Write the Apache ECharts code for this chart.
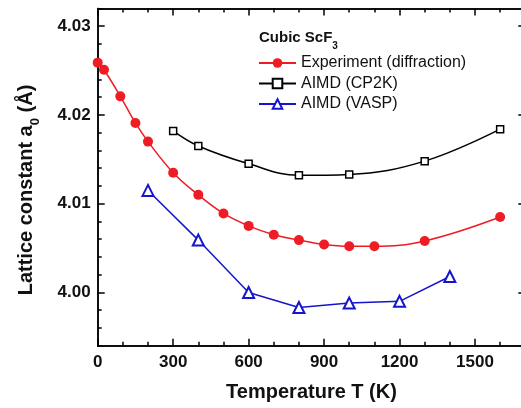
<!DOCTYPE html>
<html><head><meta charset="utf-8">
<script src="https://cdn.jsdelivr.net/npm/echarts@6/dist/echarts.min.js"></script>
<style>html,body{margin:0;padding:0;background:#fff}#c{width:521px;height:408px}</style>
</head><body><div id="c"></div>
<script>
var expT = [0, 25, 90, 150, 200, 300, 400, 500, 600, 700, 800, 900, 1000, 1100, 1300, 1600];
var expA = [4.0259, 4.0251, 4.0221, 4.0191, 4.0170, 4.0135, 4.0110, 4.0089, 4.0075, 4.0065, 4.0059, 4.0054, 4.0052, 4.0052, 4.0058, 4.0085];
var cpT = [300, 400, 600, 800, 1000, 1300, 1600];
var cpA = [4.0182, 4.0165, 4.0145, 4.0132, 4.0133, 4.0148, 4.0184];
var vaspT = [200, 400, 600, 800, 1000, 1200, 1400];
var vaspA = [4.0115, 4.0059, 4.0000, 3.9983, 3.9988, 3.9990, 4.0018];
var xTicks = [0, 300, 600, 900, 1200, 1500];
var yTicks = [4.00, 4.01, 4.02, 4.03];
var names = ['Experiment (diffraction)', 'AIMD (CP2K)', 'AIMD (VASP)'];

function zip(a, b) { return a.map(function (v, i) { return [v, b[i]]; }); }
var FONT = 'Liberation Sans, Arial, sans-serif';
var lineSty = { color: '#000', width: 1.5 };

function xAx(pos, major, labels) {
  return {
    type: 'value', position: pos, min: 0, max: 1700, interval: 100,
    axisLine: { show: true, onZero: false, lineStyle: lineSty },
    splitLine: { show: false },
    axisTick: major ? { show: true, inside: true, length: 7, customValues: xTicks, lineStyle: lineSty }
                    : { show: true, inside: true, length: 4, lineStyle: lineSty },
    axisLabel: labels ? { show: true, customValues: xTicks, margin: 8, fontFamily: FONT, fontWeight: 'bold', fontSize: 17, color: '#111',
      formatter: function (v) { return String(Math.round(v)); } } : { show: false }
  };
}
function yAx(pos, major, labels) {
  return {
    type: 'value', position: pos, min: 3.994, max: 4.032, interval: 0.002,
    axisLine: { show: true, onZero: false, lineStyle: lineSty },
    splitLine: { show: false },
    axisTick: major ? { show: true, inside: true, length: 7, customValues: yTicks, lineStyle: lineSty }
                    : { show: true, inside: true, length: 4, lineStyle: lineSty },
    axisLabel: labels ? { show: true, customValues: yTicks, margin: 7, fontFamily: FONT, fontWeight: 'bold', fontSize: 17, color: '#111',
      formatter: function (v) { return v.toFixed(2); } } : { show: false }
  };
}

var xa0 = xAx('bottom', true, true);
xa0.name = 'Temperature T (K)';
xa0.nameLocation = 'middle';
xa0.nameGap = 37;
xa0.nameTextStyle = { fontFamily: FONT, fontWeight: 'bold', fontSize: 20, color: '#111' };

var chart = echarts.init(document.getElementById('c'), null, { renderer: 'canvas' });
chart.setOption({
  animation: false,
  backgroundColor: '#fff',
  grid: { left: 97.7, top: 8.5, width: 427.6, height: 337.2, containLabel: false, outerBoundsMode: 'none' },
  xAxis: [xa0, xAx('bottom', false, false), xAx('top', true, false), xAx('top', false, false)],
  yAxis: [yAx('left', true, true), yAx('left', false, false), yAx('right', true, false), yAx('right', false, false)],
  legend: {
    data: names, orient: 'vertical', left: 258, top: 54, itemWidth: 37, itemHeight: 12, itemGap: 2.5,
    textStyle: { fontFamily: FONT, fontSize: 16, color: '#111', lineHeight: 18 }, padding: 0
  },
  graphic: [
    { type: 'text', left: 259, top: 30, style: { text: '{b|Cubic ScF}{s|3}', rich: {
      b: { fontFamily: FONT, fontWeight: 'bold', fontSize: 15, fill: '#111', verticalAlign: 'top', lineHeight: 18 },
      s: { fontFamily: FONT, fontWeight: 'bold', fontSize: 10, fill: '#111', verticalAlign: 'bottom', lineHeight: 21 } } } },
    { type: 'text', x: 29, y: 190, rotation: Math.PI / 2, style: {
      text: '{b|Lattice constant a}{s|0}{b| (Å)}', align: 'center', verticalAlign: 'middle', rich: {
      b: { fontFamily: FONT, fontWeight: 'bold', fontSize: 20, fill: '#111', lineHeight: 24, verticalAlign: 'top' },
      s: { fontFamily: FONT, fontWeight: 'bold', fontSize: 13, fill: '#111', lineHeight: 26, verticalAlign: 'bottom' } } } }
  ],
  series: [
    { name: names[0], type: 'line', data: zip(expT, expA), smooth: 0.4, clip: false,
      symbol: 'circle', symbolSize: 10, itemStyle: { color: '#ee1c25' }, lineStyle: { color: '#ee1c25', width: 1.5 } },
    { name: names[1], type: 'line', data: zip(cpT, cpA), smooth: 0.4, clip: false,
      symbol: 'rect', symbolSize: 7, itemStyle: { color: '#fff', borderColor: '#000', borderWidth: 1.5 }, lineStyle: { color: '#000', width: 1.5 } },
    { name: names[2], type: 'line', data: zip(vaspT, vaspA), clip: false,
      symbol: 'triangle', symbolSize: 11, itemStyle: { color: '#fff', borderColor: '#1515cc', borderWidth: 2 }, lineStyle: { color: '#1515cc', width: 1.5 } }
  ]
});
</script></body></html>
